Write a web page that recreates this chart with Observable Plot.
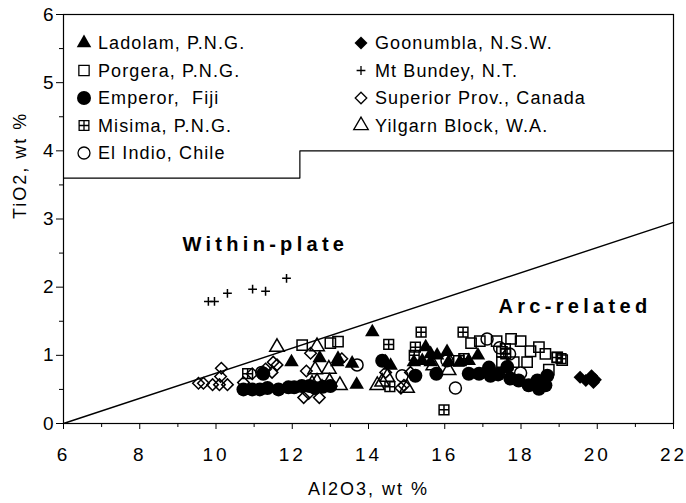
<!DOCTYPE html>
<html><head><meta charset="utf-8">
<script src="https://cdn.jsdelivr.net/npm/d3@7"></script>
<script src="https://cdn.jsdelivr.net/npm/@observablehq/plot@0.6"></script>
<style>
body{margin:0;background:#fff;}
#wrap{width:686px;height:503px;}
</style></head><body><div id="wrap"></div>
<script>
// ---- data (Al2O3 wt%, TiO2 wt%) ----
const ladolam = [[11.98,0.90],[12.72,0.96],[12.78,0.54],[13.2,0.95],[13.18,0.90],[13.57,0.88],[13.69,0.57],[14.1,1.34],[14.45,0.90],[14.58,0.85],[15.19,0.90],[15.41,0.92],[15.5,1.12],[15.63,1.02],[15.63,0.90],[15.8,1.0],[16.06,1.05],[16.4,0.9],[16.63,0.92],[16.87,1.0],[16.1,0.9]];
const porgera = [[12.26,1.15],[13.0,1.18],[13.2,1.20],[16.37,0.92],[16.69,1.18],[16.92,1.21],[17.36,1.21],[17.74,1.24],[17.99,1.21],[18.25,1.06],[18.47,1.12],[18.64,1.02],[18.16,0.90],[18.73,0.79],[17.5,0.90],[17.81,0.90],[18.95,0.97],[19.08,0.93],[17.5,1.05]];
const emperor = [[10.72,0.50],[10.95,0.50],[11.15,0.50],[11.35,0.52],[11.64,0.50],[11.9,0.53],[12.05,0.53],[12.25,0.55],[12.45,0.55],[12.6,0.52],[12.8,0.54],[13.0,0.55],[14.36,0.92],[15.23,0.70],[15.78,0.73],[16.63,0.73],[16.9,0.73],[17.16,0.82],[17.2,0.70],[17.4,0.72],[17.64,0.83],[17.72,0.66],[17.94,0.63],[18.2,0.56],[18.43,0.63],[18.64,0.56],[18.47,0.51],[18.69,0.70],[11.24,0.73]];
const misima = [[10.83,0.73],[14.53,1.16],[15.38,1.34],[15.23,1.12],[16.48,1.34],[17.59,1.10],[17.6,1.02],[18.95,0.97],[19.05,0.95],[15.98,0.20],[14.56,0.54],[15.2,1.0],[16.5,0.95]];
const elIndio = [[13.7,0.86],[16.06,0.92],[16.28,0.52],[17.11,1.24],[17.44,1.11],[17.99,0.74],[11.2,0.75],[14.88,0.70],[17.7,1.02]];
const goonumbla = [[19.55,0.68],[19.7,0.63],[19.85,0.70],[19.95,0.64],[19.9,0.60]];
const mtBundey = [[9.80,1.79],[9.96,1.79],[10.30,1.91],[10.96,1.97],[11.30,1.94],[11.85,2.13]];
const superior = [[9.54,0.59],[9.67,0.59],[9.91,0.57],[10.09,0.57],[10.30,0.57],[10.12,0.69],[10.14,0.81],[10.72,0.60],[10.95,0.73],[11.5,0.90],[11.3,0.80],[11.47,0.75],[11.6,0.86],[12.48,1.03],[12.37,0.77],[12.3,0.38],[12.43,0.44],[12.71,0.38],[13.3,0.95],[14.45,0.75],[14.93,0.56],[14.85,0.52],[15.1,0.75]];
const yilgarn = [[11.6,1.12],[12.65,1.13],[12.6,0.79],[12.96,0.80],[12.52,0.58],[12.65,0.61],[12.98,0.61],[13.25,0.56],[14.23,0.56],[14.36,0.61],[14.49,0.68],[15.01,0.52],[16.1,0.78],[15.7,0.85]];

const seriesNames = ["Ladolam, P.N.G.","Porgera, P.N.G.","Emperor,  Fiji","Misima, P.N.G.","El Indio, Chile","Goonumbla, N.S.W.","Mt Bundey, N.T.","Superior Prov., Canada","Yilgarn Block, W.A."];
const seriesData = [ladolam, porgera, emperor, misima, elIndio, goonumbla, mtBundey, superior, yilgarn];

const xTicks = [6,8,10,12,14,16,18,20,22];
const xMinorTicks = [7,9,11,13,15,17,19,21];
const yTicks = [0,1,2,3,4,5,6];
const yMinorTicks = [0.5,1.5,2.5,3.5,4.5,5.5];

const legendBoundary = [[6,3.6],[12.2,3.6],[12.2,4],[22,4]];
const discriminant = [[6,0],[22,2.95]];
const fieldLabels = [{text:"Within-plate", x:9.12, y:2.62},{text:"Arc-related", x:17.41, y:1.72}];

// ---- symbols ----
const squarePlus = {draw(ctx, size){ const s = Math.sqrt(size)/2;
  ctx.moveTo(-s,-s); ctx.lineTo(s,-s); ctx.lineTo(s,s); ctx.lineTo(-s,s); ctx.closePath();
  ctx.moveTo(0,-s); ctx.lineTo(0,s); ctx.moveTo(-s,0); ctx.lineTo(s,0);}};
const diamondSq = {draw(ctx, size){ const s = Math.sqrt(size)/2*Math.SQRT2;
  ctx.moveTo(0,-s); ctx.lineTo(s,0); ctx.lineTo(0,s); ctx.lineTo(-s,0); ctx.closePath();}};
const plusSym = {draw(ctx, size){ const s = Math.sqrt(size)*0.55;
  ctx.moveTo(-s,0); ctx.lineTo(s,0); ctx.moveTo(0,-s); ctx.lineTo(0,s);}};

const styles = [
  {symbol:d3.symbolTriangle, fill:"black", stroke:"none", r:5.4},
  {symbol:d3.symbolSquare, fill:"none", stroke:"black", r:5.8},
  {symbol:d3.symbolCircle, fill:"black", stroke:"none", r:7},
  {symbol:squarePlus, fill:"none", stroke:"black", r:5.5},
  {symbol:d3.symbolCircle, fill:"none", stroke:"black", r:6},
  {symbol:diamondSq, fill:"black", stroke:"none", r:5.2},
  {symbol:plusSym, fill:"none", stroke:"black", r:4.5},
  {symbol:diamondSq, fill:"none", stroke:"black", r:4.6},
  {symbol:d3.symbolTriangle, fill:"none", stroke:"black", r:5.4}
];

const dotMarks = seriesData.map((data, i) => Plot.dot(data, {
  x: d => d[0], y: d => d[1], symbol: styles[i].symbol, r: styles[i].r,
  fill: styles[i].fill, stroke: styles[i].stroke, strokeWidth: 1.5
}));

const font = "'Liberation Sans', Arial, Helvetica, sans-serif";

const svg = Plot.plot({
  width: 686, height: 503,
  marginLeft: 63, marginRight: 13, marginTop: 14, marginBottom: 80,
  style: {fontFamily: font, background: "white", color: "black"},
  x: {domain: [6, 22]},
  y: {domain: [0, 6]},
  marks: [
    Plot.frame({stroke: "black", strokeWidth: 1.2}),
    Plot.axisX({ticks: xTicks, tickSize: 6, tickPadding: 18, fontSize: 19, tickFormat: d => String(d), label: null}),
    Plot.axisX({ticks: xMinorTicks, tickSize: 4, tickFormat: () => "", label: null}),
    Plot.axisY({ticks: yTicks, tickSize: 7, tickPadding: 3, fontSize: 19, tickFormat: d => String(d), label: null}),
    Plot.axisY({ticks: yMinorTicks, tickSize: 4, tickFormat: () => "", label: null}),
    Plot.text(["Al2O3, wt %"], {frameAnchor: "bottom", dy: 71, fontSize: 18, text: d => d}),
    Plot.text(["TiO2, wt %"], {frameAnchor: "left", dx: -43, rotate: -90, fontSize: 18, text: d => d}),
    Plot.line(legendBoundary, {x: d => d[0], y: d => d[1], stroke: "black", strokeWidth: 1.2}),
    Plot.line(discriminant, {x: d => d[0], y: d => d[1], stroke: "black", strokeWidth: 1.4}),
    Plot.text(fieldLabels, {x: "x", y: "y", text: "text", textAnchor: "start", fontWeight: "bold", fontSize: 20}),
    ...dotMarks
  ]
});

const sel = d3.select(svg);
sel.selectAll('g[aria-label="x-axis tick label"] text').style("letter-spacing", "3px");
sel.selectAll('g[aria-label="text"] text').each(function(){
  const t = d3.select(this).text();
  if (t === "Within-plate" || t === "Arc-related") d3.select(this).style("letter-spacing", "4.3px");
  else d3.select(this).style("letter-spacing", "2px");
});

// ---- legend (inside plot frame) ----
const lg = sel.append("g").attr("font-family", font).attr("font-size", 18)
  .attr("fill", "black").attr("text-anchor", "start");
seriesNames.forEach((name, i) => {
  const col = i < 5 ? 0 : 1, row = i < 5 ? i : i - 5;
  const sx = col === 0 ? 84 : 361, tx = col === 0 ? 98 : 375;
  const cy = 43 + row * 27.5;
  const st = styles[i];
  lg.append("path")
    .attr("d", d3.symbol(st.symbol, st.r * st.r * Math.PI)())
    .attr("transform", `translate(${sx},${cy})`)
    .attr("fill", st.fill).attr("stroke", st.stroke).attr("stroke-width", 1.3);
  lg.append("text").attr("x", tx).attr("y", cy).attr("dy", "0.36em")
    .attr("text-anchor", "start")
    .style("letter-spacing", "1.1px").text(name);
});

document.getElementById("wrap").appendChild(svg);
</script></body></html>
